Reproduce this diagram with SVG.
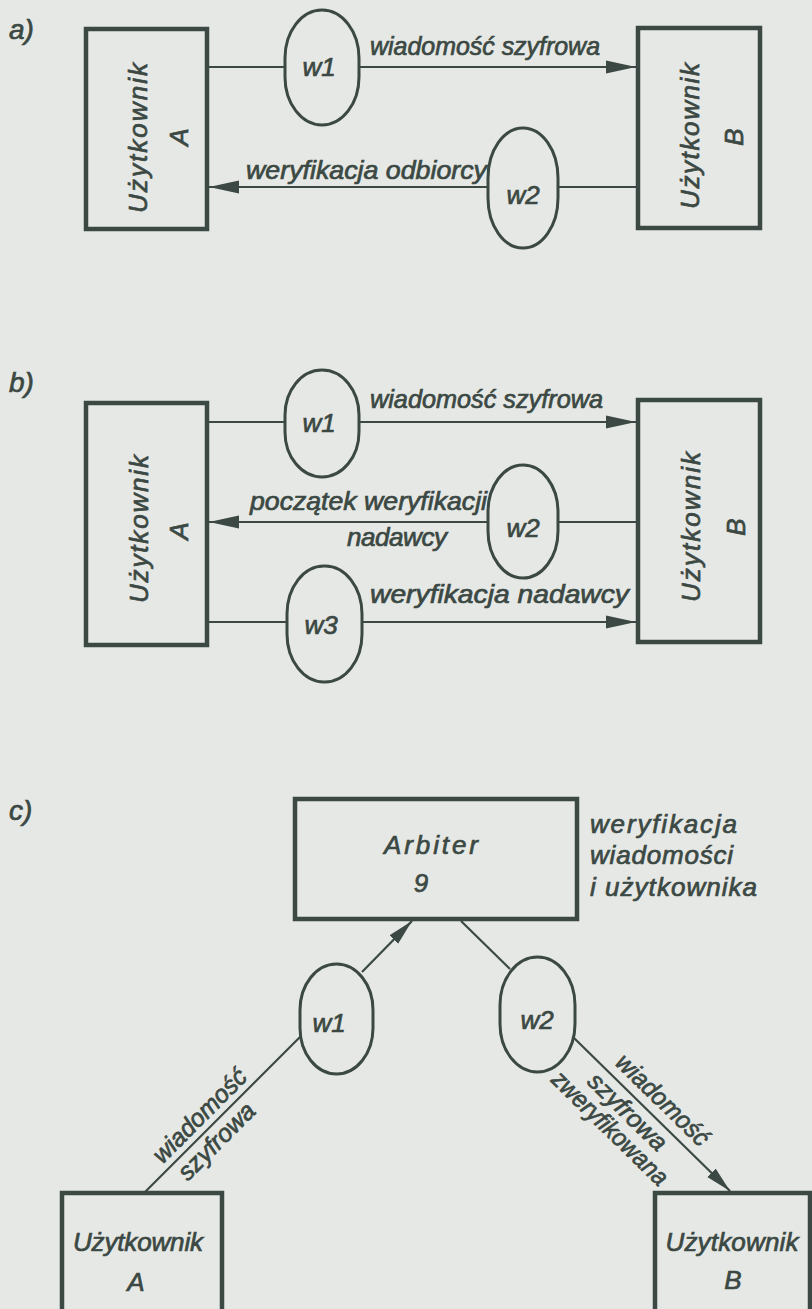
<svg xmlns="http://www.w3.org/2000/svg" width="812" height="1309" viewBox="0 0 812 1309">
<style>
.bg{fill:#e6e8e5}
.box{fill:none;stroke:#3b4843;stroke-width:4.5}
.oval{fill:none;stroke:#3b4843;stroke-width:3}
.ln{fill:none;stroke:#3b4843;stroke-width:2.2}
.t{font-family:"Liberation Sans",Arial,sans-serif;font-style:italic;font-size:26px;fill:#3b4843;stroke:#3b4843;stroke-width:0.7}
.d{font-size:25px}
.p{font-size:28px}
.m{text-anchor:middle}
</style>
<defs>
<marker id="arr" markerUnits="userSpaceOnUse" markerWidth="31" markerHeight="14" refX="30" refY="7" orient="auto">
<path d="M0,0.5 L30,7 L0,13.5 Z" fill="#3b4843"/>
</marker>
<marker id="arrs" markerUnits="userSpaceOnUse" markerWidth="27" markerHeight="13" refX="26" refY="6.5" orient="auto">
<path d="M0,0.5 L26,6.5 L0,12.5 Z" fill="#3b4843"/>
</marker>
</defs>
<rect class="bg" x="0" y="0" width="812" height="1309"/>

<!-- panel labels -->
<text class="t p" x="9" y="39">a)</text>
<text class="t p" x="9" y="392">b)</text>
<text class="t p" x="9" y="820">c)</text>

<!-- ===== a) ===== -->
<g id="a-userA">
<rect class="box" x="86" y="29" width="121" height="200"/>
<text class="t m" transform="translate(147,138) rotate(-90)" textLength="150" lengthAdjust="spacing">Użytkownik</text>
<text class="t m" transform="translate(188,137) rotate(-90)">A</text>
</g>
<g id="a-userB">
<rect class="box" x="638" y="28" width="122" height="200"/>
<text class="t m" transform="translate(699,136) rotate(-90)" textLength="146" lengthAdjust="spacing">Użytkownik</text>
<text class="t m" transform="translate(743,137) rotate(-90)">B</text>
</g>
<g id="a-w1">
<rect class="oval" x="285" y="10" width="74" height="115" rx="37" ry="48"/>
<text class="t m" x="319" y="76">w1</text>
</g>
<g id="a-w2">
<rect class="oval" x="488" y="128" width="70" height="120" rx="35" ry="50"/>
<text class="t m" x="523" y="204">w2</text>
</g>

<!-- ===== b) ===== -->
<g id="b-userA">
<rect class="box" x="86" y="403" width="121" height="242"/>
<text class="t m" transform="translate(148,529) rotate(-90)" textLength="148" lengthAdjust="spacing">Użytkownik</text>
<text class="t m" transform="translate(188,531) rotate(-90)">A</text>
</g>
<g id="b-userB">
<rect class="box" x="638" y="400" width="122" height="242"/>
<text class="t m" transform="translate(700,527) rotate(-90)" textLength="150" lengthAdjust="spacing">Użytkownik</text>
<text class="t m" transform="translate(745,527) rotate(-90)">B</text>
</g>
<g id="b-w1">
<rect class="oval" x="285" y="370" width="74" height="107" rx="37" ry="45"/>
<text class="t m" x="319" y="432">w1</text>
</g>
<g id="b-w2">
<rect class="oval" x="488" y="465" width="70" height="113" rx="35" ry="47"/>
<text class="t m" x="523" y="537">w2</text>
</g>
<g id="b-w3">
<rect class="oval" x="287" y="566" width="75" height="116" rx="37" ry="48"/>
<text class="t m" x="321" y="634">w3</text>
</g>

<!-- ===== c) ===== -->
<g id="c-arbiter">
<rect class="box" x="295" y="799" width="282" height="120"/>
<text class="t m" x="431" y="854" textLength="94" lengthAdjust="spacing">Arbiter</text>
<text class="t m" x="421" y="892">9</text>
</g>
<g id="c-note">
<text class="t" x="590" y="833" textLength="147" lengthAdjust="spacing">weryfikacja</text>
<text class="t" x="590" y="864" textLength="143" lengthAdjust="spacing">wiadomości</text>
<text class="t" x="590" y="896" textLength="167" lengthAdjust="spacing">i użytkownika</text>
</g>
<g id="c-w1">
<rect class="oval" x="300" y="964" width="73" height="110" rx="36.5" ry="46"/>
<text class="t m" x="329" y="1032">w1</text>
</g>
<g id="c-w2">
<rect class="oval" x="500" y="957" width="75" height="115" rx="37.5" ry="48"/>
<text class="t m" x="537" y="1029">w2</text>
</g>
<g id="c-userA">
<path class="box" d="M62,1312 V1193 H222 V1312"/>
<text class="t m" x="138" y="1251" textLength="130" lengthAdjust="spacing">Użytkownik</text>
<text class="t m" x="136" y="1291">A</text>
</g>
<g id="c-userB">
<path class="box" d="M655,1312 V1193 H810 V1312"/>
<text class="t m" x="732" y="1251" textLength="133" lengthAdjust="spacing">Użytkownik</text>
<text class="t m" x="733" y="1289">B</text>
</g>

<!-- ===== connectors ===== -->
<g id="connectors">
<line class="ln" x1="207" y1="67" x2="285" y2="67"/>
<line class="ln" x1="359" y1="67" x2="636" y2="67" marker-end="url(#arr)"/>
<line class="ln" x1="636" y1="187" x2="558" y2="187"/>
<line class="ln" x1="488" y1="187" x2="209" y2="187" marker-end="url(#arr)"/>
<line class="ln" x1="207" y1="422" x2="285" y2="422"/>
<line class="ln" x1="359" y1="422" x2="636" y2="422" marker-end="url(#arr)"/>
<line class="ln" x1="636" y1="522" x2="558" y2="522"/>
<line class="ln" x1="488" y1="522" x2="209" y2="522" marker-end="url(#arr)"/>
<line class="ln" x1="207" y1="622" x2="287" y2="622"/>
<line class="ln" x1="362" y1="622" x2="636" y2="622" marker-end="url(#arr)"/>
<line class="ln" x1="144" y1="1193" x2="301" y2="1036"/>
<line class="ln" x1="362" y1="972" x2="412" y2="921" marker-end="url(#arrs)"/>
<line class="ln" x1="461" y1="921" x2="510" y2="969"/>
<line class="ln" x1="574" y1="1038" x2="730" y2="1191" marker-end="url(#arrs)"/>
</g>

<!-- connector labels -->
<g id="connector-labels">
<text class="t" x="370" y="55" textLength="230" lengthAdjust="spacingAndGlyphs">wiadomość szyfrowa</text>
<text class="t" x="246" y="179" textLength="241" lengthAdjust="spacingAndGlyphs">weryfikacja odbiorcy</text>
<text class="t" x="370" y="408" textLength="233" lengthAdjust="spacingAndGlyphs">wiadomość szyfrowa</text>
<text class="t" x="250" y="510" textLength="237" lengthAdjust="spacingAndGlyphs">początek weryfikacji</text>
<text class="t" x="347" y="546" textLength="100" lengthAdjust="spacing">nadawcy</text>
<text class="t" x="370" y="603" textLength="259" lengthAdjust="spacingAndGlyphs">weryfikacja nadawcy</text>
<g transform="translate(144,1193) rotate(-45)">
<text class="t d m" x="94" y="-7" textLength="122" lengthAdjust="spacingAndGlyphs">wiadomość</text>
<text class="t d m" x="88" y="23" textLength="98" lengthAdjust="spacingAndGlyphs">szyfrowa</text>
</g>
<g transform="translate(572,1037) rotate(44.3)">
<text class="t d m" x="109" y="-10" textLength="120" lengthAdjust="spacingAndGlyphs">wiadomość</text>
<text class="t d m" x="92" y="23" textLength="100" lengthAdjust="spacingAndGlyphs">szyfrowa</text>
<text class="t d m" x="91" y="47" textLength="152" lengthAdjust="spacingAndGlyphs">zweryfikowana</text>
</g>
</g>
</svg>
